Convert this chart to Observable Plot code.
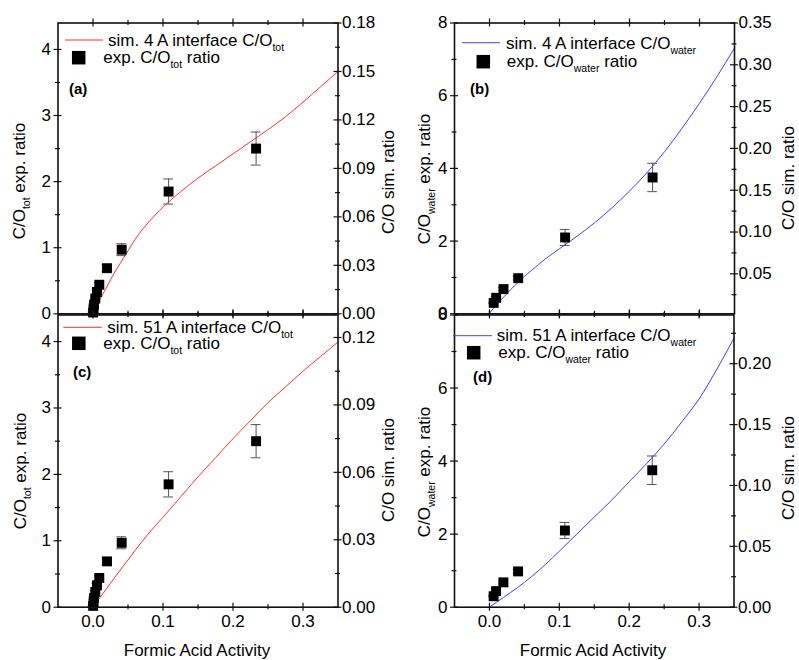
<!DOCTYPE html>
<html>
<head>
<meta charset="utf-8">
<script src="https://cdn.jsdelivr.net/npm/d3@7"></script>
<script src="https://cdn.jsdelivr.net/npm/@observablehq/plot@0.6"></script>
<style>
html, body { margin: 0; padding: 0; background: #fff; }
#chart { position: relative; width: 799px; height: 660px; overflow: hidden; }
#chart svg { position: absolute; left: 0; top: 0; background: transparent !important; max-width: none !important; }
</style>
</head>
<body>
<div id="chart"></div>
<script>
// ---------------- data ----------------
const activityTicks = [0, 0.1, 0.2, 0.3];
const activityMinorTicks = [0.05, 0.15, 0.25];

// experimental C/O_tot ratio (panels a, c)
const expTotActivity = [0.0002, 0.0008, 0.0015, 0.0033, 0.0057, 0.009, 0.020, 0.041, 0.108, 0.233];
const expTotRatio    = [0.02, 0.07, 0.14, 0.23, 0.33, 0.44, 0.69, 0.97, 1.85, 2.50];
const expTotError    = [0.01, 0.01, 0.02, 0.02, 0.03, 0.03, 0.05, 0.09, 0.19, 0.25];

// experimental C/O_water ratio (panels b, d)
const expWaterActivity = [0.006, 0.0095, 0.020, 0.041, 0.108, 0.233];
const expWaterRatio    = [0.30, 0.44, 0.68, 0.98, 2.10, 3.75];
const expWaterError    = [0.02, 0.03, 0.04, 0.05, 0.22, 0.39];

// simulated C/O ratios
const simActivity = [0, 0.01, 0.02, 0.03, 0.04, 0.05, 0.06, 0.08, 0.10, 0.125, 0.15, 0.175, 0.20, 0.225, 0.25, 0.275, 0.30, 0.325, 0.35];
const sim4Tot    = [0.001, 0.009, 0.017, 0.025, 0.032, 0.039, 0.046, 0.057, 0.066, 0.0755, 0.084, 0.0915, 0.099, 0.1065, 0.114, 0.122, 0.131, 0.1405, 0.150];
const sim4Water  = [0.003, 0.013, 0.022, 0.031, 0.039, 0.047, 0.054, 0.068, 0.080, 0.095, 0.111, 0.129, 0.149, 0.171, 0.196, 0.224, 0.254, 0.286, 0.320];
const sim51Tot   = [0.000, 0.0043, 0.0085, 0.0128, 0.017, 0.021, 0.0252, 0.033, 0.040, 0.049, 0.058, 0.0665, 0.075, 0.083, 0.091, 0.098, 0.105, 0.1115, 0.118];
const sim51Water = [0.000, 0.004, 0.008, 0.012, 0.016, 0.0205, 0.025, 0.035, 0.046, 0.060, 0.074, 0.088, 0.103, 0.118, 0.134, 0.152, 0.171, 0.195, 0.221];

// axis ticks
const totExpTicks = [0, 1, 2, 3, 4];
const totExpMinor = [0.5, 1.5, 2.5, 3.5];
const waterExpTicks = [0, 2, 4, 6, 8];
const waterExpMinor = [1, 3, 5, 7];
const simTicksA = [0, 0.03, 0.06, 0.09, 0.12, 0.15, 0.18];
const simMinorA = [0.015, 0.045, 0.075, 0.105, 0.135, 0.165];
const simTicksB = [0.05, 0.10, 0.15, 0.20, 0.25, 0.30, 0.35];
const simMinorB = [0.025, 0.075, 0.125, 0.175, 0.225, 0.275, 0.325];
const simTicksC = [0, 0.03, 0.06, 0.09, 0.12];
const simMinorC = [0.015, 0.045, 0.075, 0.105];
const simTicksD = [0, 0.05, 0.10, 0.15, 0.20];
const simMinorD = [0.025, 0.075, 0.125, 0.175, 0.225];

// text
const xTitle = "Formic Acid Activity";
const simAxisTitle = "C/O sim. ratio";

// ---------------- drawing ----------------
const W = 799, H = 660;
const FONT = '"Liberation Sans", Arial, Helvetica, sans-serif';
const RED = "#ff3030", BLUE = "#4040ff", AX = "#111";
const capHalf = 0.007;

const panels = [
  { frame: {l: 57.5, r: 337.5, t: 22.5, b: 313.3}, leftDomain: [0, 4.4], leftTicks: totExpTicks, leftMinor: totExpMinor,
    rightDomain: [0, 0.18], rightTicks: simTicksA, rightMinor: simMinorA,
    expX: expTotActivity, expY: expTotRatio, expE: expTotError, sim: sim4Tot, color: RED, showX: false },
  { frame: {l: 454, r: 734, t: 22.5, b: 313.3}, leftDomain: [0, 8], leftTicks: waterExpTicks, leftMinor: waterExpMinor,
    rightDomain: [0.0022, 0.35], rightTicks: simTicksB, rightMinor: simMinorB,
    expX: expWaterActivity, expY: expWaterRatio, expE: expWaterError, sim: sim4Water, color: BLUE, showX: false },
  { frame: {l: 57.5, r: 337.5, t: 314.5, b: 606.7}, leftDomain: [0, 4.4], leftTicks: totExpTicks, leftMinor: totExpMinor,
    rightDomain: [0, 0.13], rightTicks: simTicksC, rightMinor: simMinorC,
    expX: expTotActivity, expY: expTotRatio, expE: expTotError, sim: sim51Tot, color: RED, showX: true },
  { frame: {l: 454, r: 733.5, t: 314.5, b: 606.7}, leftDomain: [0, 8], leftTicks: waterExpTicks, leftMinor: waterExpMinor,
    rightDomain: [0, 0.24], rightTicks: simTicksD, rightMinor: simMinorD,
    expX: expWaterActivity, expY: expWaterRatio, expE: expWaterError, sim: sim51Water, color: BLUE, showX: true }
];

function drawPanel(p) {
  const {l, r, t, b} = p.frame;
  const fw = r - l, fh = b - t;
  const [l0, l1] = p.leftDomain, [r0, r1] = p.rightDomain;
  const toLeft = s => l0 + (s - r0) * (l1 - l0) / (r1 - r0);
  const toRight = v => r0 + (v - l0) * (r1 - r0) / (l1 - l0);
  const exp = p.expX.map((x, i) => ({x, y: p.expY[i], e: p.expE[i]}));
  const sim = simActivity.map((x, i) => ({x, s: p.sim[i]}));
  const tk = {stroke: AX, strokeWidth: 1.2};
  const MAJ = 4, MIN = 2.5;
  const xTicks = (vals, len) => [
    Plot.tickX(vals, {x: d => d, insetTop: fh - len, insetBottom: -len, ...tk}),
    Plot.tickX(vals, {x: d => d, insetTop: -len, insetBottom: fh - len, ...tk})
  ];
  const leftTicks = (vals, len) => Plot.tickY(vals, {y: d => d, insetLeft: -len, insetRight: fw - len, ...tk});
  const rightTicks = (vals, len) => Plot.tickY(vals.map(toLeft), {y: d => d, insetLeft: fw - len, insetRight: -len, ...tk});

  const marks = [
    Plot.line(sim, {x: "x", y: d => toLeft(d.s), stroke: p.color, strokeWidth: 1, curve: "monotone-x"}),
    Plot.ruleX(exp, {x: "x", y1: d => d.y - d.e, y2: d => d.y + d.e, stroke: "#555", strokeWidth: 1}),
    Plot.ruleY(exp, {y: d => d.y + d.e, x1: d => d.x - capHalf, x2: d => d.x + capHalf, stroke: "#555", strokeWidth: 1}),
    Plot.ruleY(exp, {y: d => d.y - d.e, x1: d => d.x - capHalf, x2: d => d.x + capHalf, stroke: "#555", strokeWidth: 1}),
    Plot.dot(exp, {x: "x", y: "y", symbol: "square", r: 5.6, fill: "#000"}),
    Plot.frame({stroke: AX, strokeWidth: 1.6}),
    ...xTicks(activityTicks, MAJ),
    ...xTicks(activityMinorTicks, MIN),
    leftTicks(p.leftTicks, MAJ),
    leftTicks(p.leftMinor, MIN),
    rightTicks(p.rightTicks, MAJ),
    rightTicks(p.rightMinor, MIN),
    Plot.axisY(p.leftTicks, {anchor: "left", tickSize: 0, tickPadding: 7, tickFormat: d3.format("d"), label: null}),
    Plot.axisY(p.rightTicks.map(toLeft), {anchor: "right", tickSize: 0, tickPadding: 4, tickFormat: d => toRight(d).toFixed(2), label: null})
  ];
  if (p.showX) {
    marks.push(Plot.axisX(activityTicks, {anchor: "bottom", tickSize: 0, tickPadding: 7.5, tickFormat: d3.format(".1f"), label: null}));
  } else {
    marks.push(Plot.axisX([], {anchor: "bottom", tickSize: 0, label: null}));
  }
  const chart = Plot.plot({
    width: W, height: H,
    marginLeft: l, marginRight: W - r, marginTop: t, marginBottom: H - b,
    x: {domain: [-0.05, 0.35]},
    y: {domain: p.leftDomain},
    style: {background: "transparent", fontFamily: FONT, fontSize: "17px", color: "#000", overflow: "visible"},
    marks
  });
  document.getElementById("chart").append(chart);
}
panels.forEach(drawPanel);

// ---------------- overlay: titles, legends, panel letters ----------------
const ov = d3.select("#chart").append("svg")
  .attr("width", W).attr("height", H)
  .style("font-family", FONT).style("overflow", "visible");

function rich(textSel, parts, subSize = 10.5, subShift = 5) {
  textSel.style("white-space", "pre");
  let shift = 0;
  parts.forEach(([str, sub]) => {
    const ts = textSel.append("tspan").text(str);
    if (sub) { ts.attr("font-size", subSize).attr("dy", subShift - shift); shift = subShift; }
    else { ts.attr("dy", -shift); shift = 0; }
  });
  return textSel;
}

// y-axis titles
const yTitles = [
  {x: 25, y: 181, parts: [["C/O"], ["tot", 1], [" exp. ratio"]]},
  {x: 430, y: 179, parts: [["C/O"], ["water", 1], [" exp. ratio"]]},
  {x: 26, y: 471, parts: [["C/O"], ["tot", 1], [" exp. ratio"]]},
  {x: 430, y: 472, parts: [["C/O"], ["water", 1], [" exp. ratio"]]},
  {x: 394, y: 182, parts: [[simAxisTitle]]},
  {x: 794, y: 178, parts: [[simAxisTitle]]},
  {x: 394, y: 470, parts: [[simAxisTitle]]},
  {x: 794, y: 468, parts: [[simAxisTitle]]}
];
yTitles.forEach(d => {
  const t = ov.append("text")
    .attr("transform", `translate(${d.x},${d.y}) rotate(-90)`)
    .attr("text-anchor", "middle").attr("font-size", 17).attr("fill", "#000");
  rich(t, d.parts);
});

// x-axis titles
[197, 593].forEach(cx => {
  ov.append("text").attr("x", cx).attr("y", 656).attr("text-anchor", "middle")
    .attr("font-size", 17).attr("fill", "#000").text(xTitle);
});

// legends
const legends = [
  {color: RED, line: [65, 103, 40], simText: [108, 46], sim: "sim. 4 A interface C/O", sub: "tot", sq: [78.7, 57.7], expText: [103.3, 62.5]},
  {color: BLUE, line: [462, 500, 42.7], simText: [506, 48.7], sim: "sim. 4 A interface C/O", sub: "water", sq: [483.3, 61.7], expText: [506.7, 67]},
  {color: RED, line: [63.3, 101.7, 327.3], simText: [107.3, 333.3], sim: "sim. 51 A interface C/O", sub: "tot", sq: [78.8, 343.3], expText: [103.3, 348.5]},
  {color: BLUE, line: [453, 492, 335.7], simText: [496.7, 341.2], sim: "sim. 51 A interface C/O", sub: "water", sq: [473.7, 352.7], expText: [498.3, 357.5]}
];
legends.forEach(L => {
  ov.append("line").attr("x1", L.line[0]).attr("x2", L.line[1]).attr("y1", L.line[2]).attr("y2", L.line[2])
    .attr("stroke", L.color).attr("stroke-width", 1);
  rich(ov.append("text").attr("x", L.simText[0]).attr("y", L.simText[1]).attr("font-size", 17).attr("fill", "#000"),
    [[L.sim], [L.sub, 1]]);
  const s = 13.5;
  ov.append("rect").attr("x", L.sq[0] - s / 2).attr("y", L.sq[1] - s / 2).attr("width", s).attr("height", s).attr("fill", "#000");
  rich(ov.append("text").attr("x", L.expText[0]).attr("y", L.expText[1]).attr("font-size", 17).attr("fill", "#000"),
    [["exp. C/O"], [L.sub, 1], [" ratio"]]);
});

// panel letters
[["(a)", 69, 94], ["(b)", 470, 94], ["(c)", 73, 377], ["(d)", 473, 382]].forEach(([s, x, y]) => {
  ov.append("text").attr("x", x).attr("y", y).attr("font-size", 15).attr("font-weight", "bold").attr("fill", "#000").text(s);
});
</script>
</body>
</html>
